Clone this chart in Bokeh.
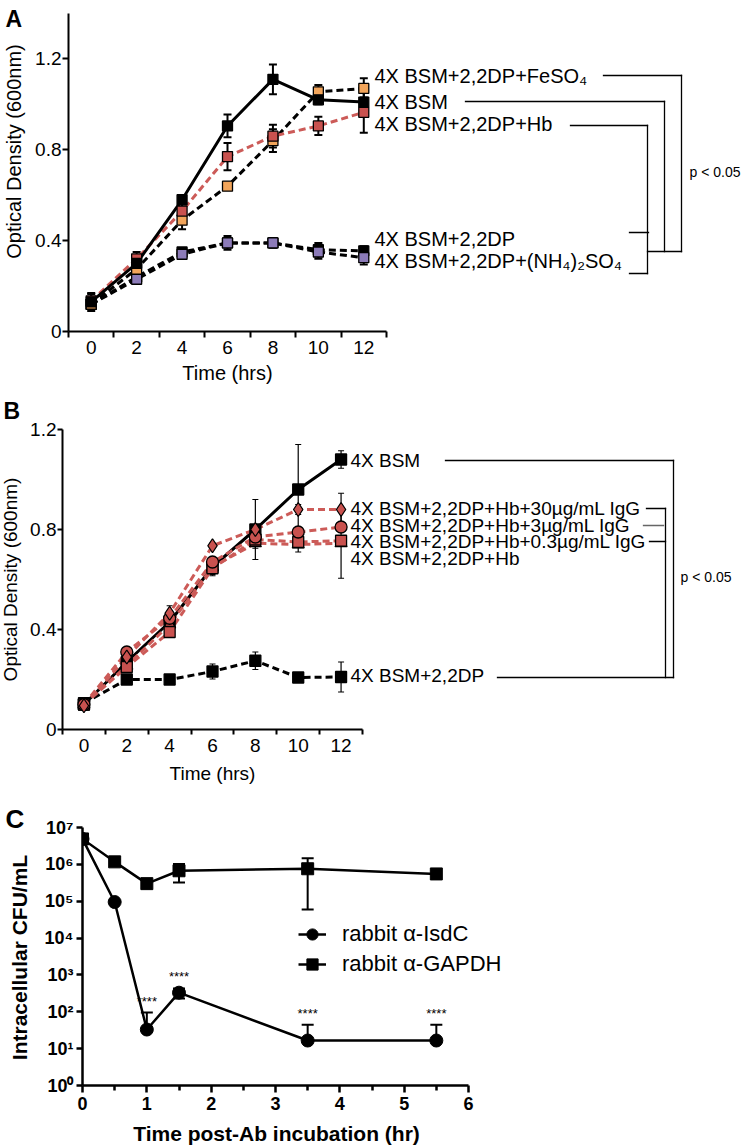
import math
from bokeh.plotting import figure
from bokeh.models import (ColumnDataSource, Whisker, TeeHead, FixedTicker,
                          Legend, LegendItem)
from bokeh.embed import file_html
from bokeh.resources import INLINE
from bokeh.core.properties import value

FONT = "Liberation Sans"

# ---------------- Panel A data ----------------
a_time = [0, 2, 4, 6, 8, 10, 12]
a_bsm = [0.13, 0.30, 0.58, 0.905, 1.11, 1.02, 1.01]
a_bsm_err = [0.04, 0.03, 0.02, 0.05, 0.065, 0.02, 0.02]
a_fe = [0.12, 0.275, 0.49, 0.64, 0.84, 1.055, 1.07]
a_fe_err = [0.02, 0.03, 0.04, 0.015, 0.05, 0.03, 0.045]
a_hb = [0.135, 0.32, 0.53, 0.77, 0.86, 0.905, 0.965]
a_hb_err = [0.03, 0.03, 0.03, 0.06, 0.05, 0.04, 0.09]
a_dp = [0.12, 0.24, 0.35, 0.39, 0.39, 0.36, 0.355]
a_dp_err = [0.02, 0.02, 0.015, 0.02, 0.02, 0.03, 0.02]
a_nh = [0.12, 0.23, 0.34, 0.39, 0.39, 0.35, 0.325]
a_nh_err = [0.02, 0.02, 0.015, 0.03, 0.02, 0.03, 0.03]
a_labels = ["4X BSM+2,2DP+FeSO\u2084", "4X BSM", "4X BSM+2,2DP+Hb",
            "4X BSM+2,2DP", "4X BSM+2,2DP+(NH\u2084)\u2082SO\u2084"]
a_yticks = [0, 0.4, 0.8, 1.2]

# ---------------- Panel B data ----------------
b_time = [0, 2, 4, 6, 8, 10, 12]
b_bsm = [0.10, 0.27, 0.43, 0.65, 0.80, 0.96, 1.08]
b_bsm_err = [0.02, 0.02, 0.03, 0.03, 0.12, 0.18, 0.035]
b_igg30 = [0.095, 0.29, 0.465, 0.735, 0.80, 0.88, 0.88]
b_igg30_err = [0.01, 0.02, 0.03, 0.01, 0.02, 0.02, 0.065]
b_igg3 = [0.10, 0.31, 0.445, 0.67, 0.77, 0.79, 0.81]
b_igg3_err = [0.01, 0.02, 0.02, 0.02, 0.02, 0.02, 0.02]
b_igg03 = [0.10, 0.25, 0.39, 0.645, 0.76, 0.75, 0.755]
b_igg03_err = [0.01, 0.02, 0.02, 0.03, 0.02, 0.02, 0.02]
b_hb = [0.10, 0.255, 0.42, 0.65, 0.745, 0.74, 0.745]
b_hb_err = [0.01, 0.02, 0.02, 0.02, 0.02, 0.03, 0.14]
b_dp = [0.105, 0.20, 0.20, 0.232, 0.275, 0.208, 0.21]
b_dp_err = [0.01, 0.02, 0.01, 0.03, 0.035, 0.015, 0.06]
b_labels = ["4X BSM", "4X BSM+2,2DP+Hb+30\u00b5g/mL IgG",
            "4X BSM+2,2DP+Hb+3\u00b5g/mL IgG",
            "4X BSM+2,2DP+Hb+0.3\u00b5g/mL IgG", "4X BSM+2,2DP+Hb",
            "4X BSM+2,2DP"]
b_yticks = [0, 0.4, 0.8, 1.2]

# ---------------- Panel C data ----------------
c_time = [0, 0.5, 1, 1.5, 3.5, 5.5]
c_isdc = [4.9e6, 9.5e4, 33, 330, 16.6, 16.6]
c_isdc_lo = [0, 0, 0, 100, 0, 0]
c_isdc_hi = [0, 0, 62, 100, 28, 28]
c_gapdh = [4.9e6, 1.17e6, 3.0e5, 6.7e5, 7.6e5, 5.5e5]
c_gapdh_lo = [0, 0, 0, 3.5e5, 7.0e5, 0]
c_gapdh_hi = [0, 0, 0, 3.5e5, 7.0e5, 0]
c_star_idx = [2, 3, 4, 5]
c_xticks = [0, 1, 2, 3, 4, 5, 6]
c_ydecades = [0, 1, 2, 3, 4, 5, 6, 7]
c_legend = ["rabbit \u03b1-IsdC", "rabbit \u03b1-GAPDH"]

SUP = str.maketrans("0123456789", "\u2070\u00b9\u00b2\u00b3\u2074\u2075\u2076\u2077\u2078\u2079")

ORANGE = "#F2A55B"
RED = "#C9524F"
RED_LINE = "#CC5B58"
PURPLE = "#8C7BB8"
DASH = "7 4"
W = 742
PAGE_RIGHT = 742


def style_axes(p, tick_px, label_px, bold=False, lw=2):
    for ax in p.axis:
        ax.axis_line_width = lw
        ax.axis_line_color = "black"
        ax.major_tick_line_color = "black"
        ax.major_tick_line_width = lw
        ax.minor_tick_line_color = "black"
        ax.minor_tick_line_width = lw
        ax.major_tick_in = 0
        ax.minor_tick_in = 0
        ax.major_label_text_font = FONT
        ax.major_label_text_font_size = f"{tick_px}px"
        ax.major_label_text_color = "black"
        ax.major_label_text_font_style = "bold" if bold else "normal"
        ax.axis_label_text_font = FONT
        ax.axis_label_text_font_size = f"{label_px}px"
        ax.axis_label_text_color = "black"
        ax.axis_label_text_font_style = "bold" if bold else "normal"


def base_fig(h, xr, yr, left, top, bottom, **kw):
    p = figure(width=W, height=h, x_range=xr, y_range=yr,
               output_backend="svg", toolbar_location=None,
               min_border_left=left, min_border_right=0,
               min_border_top=top, min_border_bottom=bottom, **kw)
    p.grid.visible = False
    p.outline_line_color = None
    p.background_fill_color = "white"
    p.border_fill_color = "white"
    return p


def add_whiskers(p, x, y, lo, hi, cap, lw):
    ux = [a for a, e in zip(x, hi) if e > 0]
    uy0 = [b for b, e in zip(y, hi) if e > 0]
    uy1 = [b + e for b, e in zip(y, hi) if e > 0]
    lx = [a for a, e in zip(x, lo) if e > 0]
    ly0 = [b - e for b, e in zip(y, lo) if e > 0]
    ly1 = [b for b, e in zip(y, lo) if e > 0]
    if ux:
        s = ColumnDataSource(dict(x=ux, lo=uy0, hi=uy1))
        p.add_layout(Whisker(source=s, base="x", lower="lo", upper="hi",
                             line_width=lw, line_color="black",
                             upper_head=TeeHead(size=cap, line_width=lw, line_color="black"),
                             lower_head=None))
    if lx:
        s = ColumnDataSource(dict(x=lx, lo=ly0, hi=ly1))
        p.add_layout(Whisker(source=s, base="x", lower="lo", upper="hi",
                             line_width=lw, line_color="black",
                             lower_head=TeeHead(size=cap, line_width=lw, line_color="black"),
                             upper_head=None))


def px2data(px, py, g):
    fx0, fx1, x0, x1, fy0, fy1, y0, y1, ylog = g
    x = x0 + (px - fx0) * (x1 - x0) / (fx1 - fx0)
    if ylog:
        ly0, ly1 = math.log10(y0), math.log10(y1)
        y = 10 ** (ly0 + (fy0 - py) * (ly1 - ly0) / (fy0 - fy1))
    else:
        y = y0 + (fy0 - py) * (y1 - y0) / (fy0 - fy1)
    return x, y


def brackets(p, segs, g, width=1.3):
    d = dict(x0=[], y0=[], x1=[], y1=[], c=[])
    for (a, b, c, e, col) in segs:
        x0, y0 = px2data(a, b, g)
        x1, y1 = px2data(c, e, g)
        d["x0"].append(x0); d["y0"].append(y0)
        d["x1"].append(x1); d["y1"].append(y1); d["c"].append(col)
    p.segment("x0", "y0", "x1", "y1", source=ColumnDataSource(d),
              line_color="c", line_width=width, line_cap="square")


def texts(p, pts, txts, size, g, bold=False, align="left", baseline="middle",
          level="glyph", angle=0.0):
    xs, ys = [], []
    for (px, py) in pts:
        x, y = px2data(px, py, g)
        xs.append(x); ys.append(y)
    p.text(x=xs, y=ys, text=txts, text_font=value(FONT),
           text_font_size=value(f"{size}px"),
           text_font_style=value("bold" if bold else "normal"),
           text_align=align, text_baseline=baseline, text_color="black",
           level=level, angle=angle)


odd_ticks = [-1, 1, 3, 5, 7, 9, 11, 13]

# ================= Panel A =================  (page rows 0..388)
A_FX0, A_XPU = 68, 318 / 14
a_xmax = -1 + (PAGE_RIGHT - A_FX0) / A_XPU
pA = base_fig(388, (-1, a_xmax), (0, 1.4), A_FX0, 13, 57)
style_axes(pA, 19, 20)
pA.xaxis.bounds = (-1, 13)
pA.xaxis.ticker = FixedTicker(ticks=a_time, minor_ticks=odd_ticks)
pA.xaxis.major_tick_line_color = None
pA.xaxis.minor_tick_out = 6
pA.xaxis.major_label_standoff = 3
pA.yaxis.ticker = FixedTicker(ticks=a_yticks, minor_ticks=[])
pA.yaxis.major_label_overrides = {0: "0"}
pA.yaxis.major_tick_out = 6
pA.yaxis.major_label_standoff = 1

a_series = [
    (a_dp, a_dp_err, "black", DASH, "black"),
    (a_nh, a_nh_err, "black", DASH, PURPLE),
    (a_fe, a_fe_err, "black", DASH, ORANGE),
    (a_hb, a_hb_err, RED_LINE, DASH, RED),
    (a_bsm, a_bsm_err, "black", "solid", "black"),
]
for ys, er, lc, dash, fc in a_series:
    add_whiskers(pA, a_time, ys, er, er, 8, 2)
for ys, er, lc, dash, fc in a_series:
    pA.line(a_time, ys, line_color=lc, line_width=3, line_dash=dash)
for ys, er, lc, dash, fc in a_series:
    pA.scatter(a_time, ys, marker="square", size=10, fill_color=fc,
               line_color="black", line_width=1.3)

gA = (A_FX0, PAGE_RIGHT, -1, a_xmax, 331, 13, 0, 1.4, False)
a_label_py = [75, 101, 123, 238, 260]
texts(pA, [(374, py) for py in a_label_py], a_labels, 20, gA)
brackets(pA, [
    (603, 75, 681, 75, "black"), (681, 75, 681, 251, "black"),
    (465, 101, 664, 101, "black"), (664, 101, 664, 251, "black"),
    (570, 125, 647, 125, "black"), (647, 125, 647, 273, "black"),
    (629, 232, 648, 232, "black"), (647, 251, 681, 251, "black"),
    (629, 273, 647, 273, "black")], gA)
texts(pA, [(689, 171)], ["p < 0.05"], 14, gA)
texts(pA, [(5, 5)], ["A"], 23, gA, bold=True, baseline="top", level="overlay")
texts(pA, [(227, 372)], ["Time (hrs)"], 20, gA, align="center", level="overlay")
texts(pA, [(13, 151)], ["Optical Density (600nm)"], 20, gA, align="center",
      level="overlay", angle=math.pi / 2)

# ================= Panel B =================  (page rows 388..795)
B_FX0, B_XPU = 62, 300 / 14
b_xmax = -1 + (PAGE_RIGHT - B_FX0) / B_XPU
pB = base_fig(407, (-1, b_xmax), (0, 1.2), B_FX0, 41, 66)
style_axes(pB, 19, 19)
pB.xaxis.bounds = (-1, 13)
pB.xaxis.ticker = FixedTicker(ticks=b_time, minor_ticks=odd_ticks)
pB.xaxis.major_tick_line_color = None
pB.xaxis.minor_tick_out = 5
pB.xaxis.major_label_standoff = 3
pB.yaxis.ticker = FixedTicker(ticks=b_yticks, minor_ticks=[])
pB.yaxis.major_label_overrides = {0: "0"}
pB.yaxis.major_tick_out = 5
pB.yaxis.major_label_standoff = 1

b_series = [
    (b_bsm, b_bsm_err, "black", "solid", "black", "square", 11),
    (b_dp, b_dp_err, "black", DASH, "black", "square", 11),
    (b_hb, b_hb_err, RED_LINE, DASH, RED, "triangle", 12),
    (b_igg03, b_igg03_err, RED_LINE, DASH, RED, "square", 11),
    (b_igg3, b_igg3_err, RED_LINE, DASH, RED, "circle", 12),
    (b_igg30, b_igg30_err, RED_LINE, DASH, RED, "diamond", 14),
]
for ys, er, lc, dash, fc, mk, sz in b_series:
    add_whiskers(pB, b_time, ys, er, er, 6, 1.2)
for ys, er, lc, dash, fc, mk, sz in b_series:
    pB.line(b_time, ys, line_color=lc, line_width=3, line_dash=dash)
for ys, er, lc, dash, fc, mk, sz in b_series:
    pB.scatter(b_time, ys, marker=mk, size=sz, fill_color=fc,
               line_color="black", line_width=1.3)

# reference rows are offset by the 388 px of panel A above
gB = (B_FX0, PAGE_RIGHT, -1, b_xmax, 729 - 388, 429 - 388, 0, 1.2, False)
b_label_py = [460, 508, 525, 541, 558, 675]
texts(pB, [(350, py - 388) for py in b_label_py], b_labels, 19, gB)
brackets(pB, [(a, b - 388, c, d - 388, col) for (a, b, c, d, col) in [
    (445, 460, 673, 460, "black"), (673, 460, 673, 677, "black"),
    (497, 677, 673, 677, "black"),
    (646, 508, 665, 508, "black"), (665, 508, 665, 677, "black"),
    (643, 525, 663, 525, "#666666"), (649, 541, 665, 541, "black")]], gB)
texts(pB, [(680, 576 - 388)], ["p < 0.05"], 14, gB)
texts(pB, [(3, 397 - 388)], ["B"], 23, gB, bold=True, baseline="top", level="overlay")
texts(pB, [(212, 773 - 388)], ["Time (hrs)"], 19, gB, align="center", level="overlay")
texts(pB, [(10, 579 - 388)], ["Optical Density (600nm)"], 19, gB, align="center",
      level="overlay", angle=math.pi / 2)

# ================= Panel C =================  (page rows 795..1147)
C_FX0, C_XPU = 82, 386 / 6
c_xmax = (PAGE_RIGHT - C_FX0) / C_XPU
pC = base_fig(352, (0, c_xmax), (1, 1e7), C_FX0, 32, 62, y_axis_type="log")
style_axes(pC, 18, 21, bold=True, lw=2.5)
pC.xaxis.bounds = (0, 6)
pC.xaxis.ticker = FixedTicker(ticks=c_xticks,
                              minor_ticks=[t + 0.5 for t in c_xticks[:-1]])
pC.xaxis.major_tick_out = 7
pC.xaxis.minor_tick_out = 5
pC.xaxis.major_label_standoff = 4
yt = [10 ** d for d in c_ydecades]
pC.yaxis.ticker = FixedTicker(ticks=yt, minor_ticks=[])
pC.yaxis.major_label_overrides = {10 ** d: "10" + str(d).translate(SUP) for d in c_ydecades}
pC.yaxis.major_label_text_font_size = "18px"
pC.yaxis.major_tick_out = 6
pC.yaxis.major_label_standoff = 3

add_whiskers(pC, c_time, c_isdc, c_isdc_lo, c_isdc_hi, 12, 2)
add_whiskers(pC, c_time, c_gapdh, c_gapdh_lo, c_gapdh_hi, 12, 2)
l1 = pC.line(c_time, c_isdc, line_color="black", line_width=2.5)
l2 = pC.line(c_time, c_gapdh, line_color="black", line_width=2.5)
s1 = pC.scatter(c_time, c_isdc, marker="circle", size=13, fill_color="black", line_color="black")
s2 = pC.scatter(c_time, c_gapdh, marker="square", size=12, fill_color="black", line_color="black")

sx = [c_time[i] for i in c_star_idx]
sy = [c_isdc[i] + c_isdc_hi[i] for i in c_star_idx]
pC.text(x=sx, y=sy, text=["****"] * len(sx), text_font=value(FONT),
        text_font_size=value("13px"), text_align="center", text_baseline="bottom",
        y_offset=-4, text_color="black")

leg = Legend(items=[LegendItem(label=c_legend[0], renderers=[l1, s1]),
                    LegendItem(label=c_legend[1], renderers=[l2, s2])],
             location=(216, 106), padding=0, margin=0, spacing=0,
             glyph_width=28, glyph_height=30, label_height=30, label_standoff=16,
             label_text_font=FONT, label_text_font_size="22px", label_text_color="black",
             border_line_color=None, background_fill_alpha=0)
pC.add_layout(leg)

gC = (C_FX0, PAGE_RIGHT, 0, c_xmax, 1085 - 795, 827 - 795, 1, 1e7, True)
texts(pC, [(5, 803 - 795)], ["C"], 26, gC, bold=True, baseline="top", level="overlay")
texts(pC, [(276, 1133 - 795)], ["Time post-Ab incubation (hr)"], 21, gC, bold=True,
      align="center", level="overlay")
texts(pC, [(19, 957 - 795)], ["Intracellular CFU/mL"], 21, gC, bold=True,
      align="center", level="overlay", angle=math.pi / 2)

open("out.html", "w").write(file_html([pA, pB, pC], INLINE, title="Growth curves"))
